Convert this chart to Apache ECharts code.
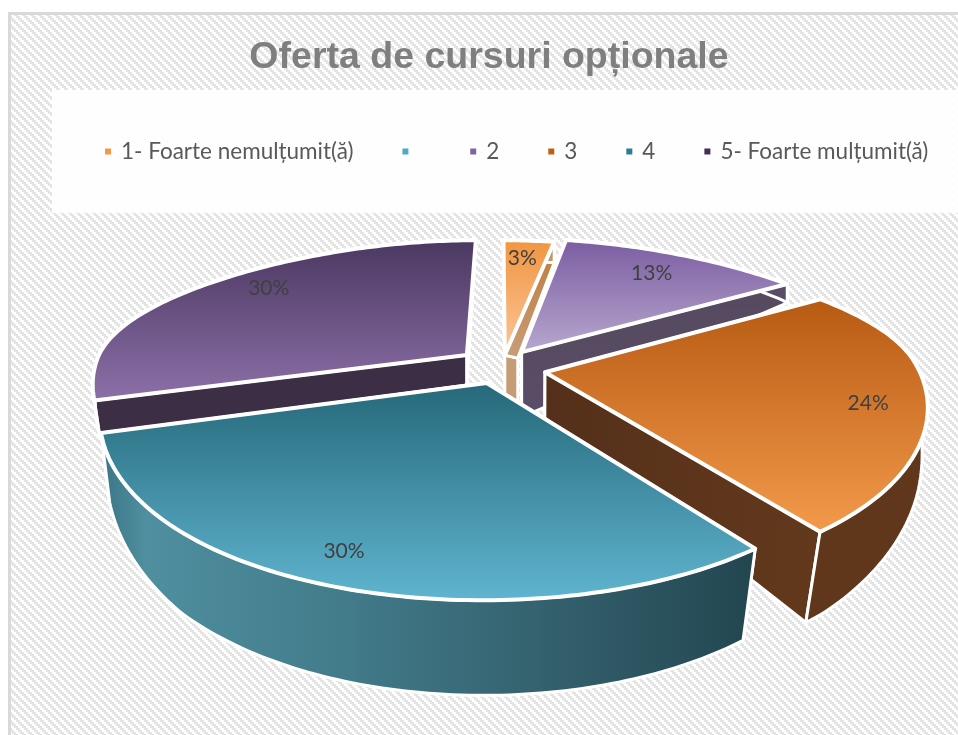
<!DOCTYPE html>
<html><head><meta charset="utf-8">
<style>html,body{margin:0;padding:0;background:#fff}#c{width:958px;height:735px}</style>
<script src="https://cdn.jsdelivr.net/npm/echarts@6/dist/echarts.min.js"></script>
</head><body><div id="c"></div>
<script>
const titleText = 'Oferta de cursuri opționale';
const categories = ['1- Foarte nemulțumit(ă)', '\u2009', '2', '3', '4', '5- Foarte mulțumit(ă)'];
const values = [3, 0, 13, 24, 30.4, 29.6];
const legendColors = ['#f79646', '#4bacc6', '#8064a2', '#c0600f', '#2a7f8f', '#403152'];

const chart = echarts.init(document.getElementById('c'), null, {renderer:'canvas'});
const LG = echarts.graphic.LinearGradient;

// per-slice appearance (index matches categories)
const looks = [
  {off:[.013,.033], top:['#f0953f','#fbc79a'], wall:['#bf7a3a','#c79e78'], wallDir:'v', lab:[.81,-.9], order:1, rimDrop:21, apexShift:[13,3], apexBox:[40,47]},
  {off:[0,0], top:['#4bacc6','#4bacc6'], wall:['#333','#333'], wallDir:'v', lab:[.8,0], order:0},
  {off:[.059,.053], top:['#7a5ca0','#b8a8cf'], wall:['#554a5e','#5a4d68'], wallDir:'v', lab:[.773,.1], order:2, apexShift:[0,65], dropScale:1.5},
  {off:[.12,-.08], top:['#b65a12','#f39a4b'], wall:['#54301a','#63391c'], outer:'#60371b', wallDir:'h', lab:[.85,2], order:4},
  {off:[-.035,-.147], top:['#256879','#60b5d0'], wall:null, wallDir:'h', lab:[.873,1.5], order:5},
  {off:[-.09,.033], top:['#4a3860','#8d70a9'], wall:['#3c2f45','#3c2f45'], wallDir:'v', lab:[.816,2.9], order:3, dropScale:.6, apexShift:[0,30]}
];
const total = values.reduce((a,b)=>a+b,0);
const cx=500, cy=360, A=370, B=150;

function topPt(u,v){
  const wx = 1 + .16*v + (v>0?.2:-.05)*v*v;
  const wy = 1 + .267*v + .017*v*v;
  return [cx + A*u/wx, cy - B*v/wy];
}
const depthV=[-1.2,-.85,-.4,0,.6,1.2], depthH=[96,90,68,40,12,3];
function drop(v){
  if(v<=depthV[0]) return depthH[0];
  for(let i=1;i<depthV.length;i++){
    if(v<=depthV[i]){const t=(v-depthV[i-1])/(depthV[i]-depthV[i-1]);return depthH[i-1]+t*(depthH[i]-depthH[i-1]);}
  }
  return depthH[depthH.length-1];
}
function botPt(u,v,L){
  const p=topPt(u,v);
  const s=1-.05*Math.max(0,-v);
  const d=L.rimDrop!=null?L.rimDrop:drop(v)*(L.dropScale||1);
  return [cx+(p[0]-cx)*s, p[1]+d];
}
function renderSlice(params, api){
  const i=params.seriesIndex, val=api.value(0);
  if(!val) return {type:'group',children:[]};
  const L=looks[i];
  let before=0; for(let k=0;k<i;k++) before+=values[k];
  const a0=before/total*360, a1=(before+val)/total*360;
  const uvs=[];
  const steps=Math.ceil(a1-a0);
  for(let s=0;s<=steps;s++){
    const r=(a0+(a1-a0)*s/steps)*Math.PI/180; uvs.push([Math.sin(r)+L.off[0],Math.cos(r)+L.off[1]]);
  }
  const o=L.off, apexT=topPt(o[0],o[1]);
  const apexB=L.apexShift?[apexT[0]+L.apexShift[0],apexT[1]+L.apexShift[1]]:botPt(o[0],o[1],L);
  const arcT=uvs.map(p=>topPt(p[0],p[1])), arcB=uvs.map(p=>botPt(p[0],p[1],L));
  const wallStyle=L.wall
    ? new LG(0,0,L.wallDir==='h'?1:0,L.wallDir==='h'?0:1,[{offset:0,color:L.wall[0]},{offset:1,color:L.wall[1]}])
    : new LG(0,0,1,0,[{offset:0,color:'#3a7485'},{offset:.07,color:'#4f8f9f'},{offset:.35,color:'#437d8c'},{offset:.7,color:'#335f6c'},{offset:1,color:'#224650'}]);
  const cutFill = L.wall ? wallStyle : '#224650';
  const sw={stroke:'#fff',lineWidth:3,lineJoin:'round'};
  const kids=[];
  const poly=(pts,fill,st)=>kids.push({type:'polygon',shape:{points:pts},style:Object.assign({fill},st||sw)});
  if(L.apexBox){
    poly([apexT,[apexT[0],apexT[1]+L.apexBox[0]],[apexB[0],apexT[1]+L.apexBox[1]],apexB],'#c69c76');
  }
  poly([apexT,arcT[0],arcB[0],apexB],cutFill);
  const n=arcT.length-1;
  poly([apexT,arcT[n],arcB[n],apexB],cutFill);
  poly(arcT.concat(arcB.slice().reverse()),L.outer||wallStyle);
  poly([apexT].concat(arcT),new LG(0,0,0,1,[{offset:0,color:L.top[0]},{offset:1,color:L.top[1]}]),{stroke:'#fff',lineWidth:4,lineJoin:'round'});
  const ma=((a0+a1)/2+L.lab[1])*Math.PI/180;
  const lp=topPt(o[0]+L.lab[0]*Math.sin(ma),o[1]+L.lab[0]*Math.cos(ma));
  kids.push({type:'text',z2:50,style:{text:Math.round(val/total*100)+'%',x:lp[0],y:lp[1],align:'center',verticalAlign:'middle',fontFamily:'Lato',fontSize:21,fill:'#404040'}});
  return {type:'group',children:kids};
}

const pat=document.createElement('canvas'); pat.width=8; pat.height=8;
const pc=pat.getContext('2d'); pc.fillStyle='#fff'; pc.fillRect(0,0,8,8); pc.fillStyle='#e4e4e4';
for(let y=0;y<8;y++)for(let x=0;x<8;x++){ if(((Math.floor(x/2)-Math.floor(y/2)+4)%4)<2) pc.fillRect(x,y,1,1); }

chart.setOption({
  animation:false,
  backgroundColor:'#fff',
  title:{text:titleText,left:484,top:34,textAlign:'center',textStyle:{fontFamily:'Liberation Sans',fontWeight:'bold',fontSize:37.5,color:'#7f7f7f'}},
  legend:{show:true,data:categories,left:98,top:135,icon:'rect',itemWidth:8,itemHeight:8,itemGap:47,
    itemStyle:{borderColor:'#fff',borderWidth:2},
    textStyle:{fontFamily:'Lato',fontSize:22.5,color:'#595959',padding:[0,0,0,4]},selectedMode:false},
  graphic:{elements:[
    {type:'rect',z:-10,shape:{x:9.5,y:13.5,width:1000,height:800},style:{fill:{image:pat,repeat:'repeat'},stroke:'#d9d9d9',lineWidth:3}},
    {type:'rect',z:-9,shape:{x:52,y:90,width:910,height:123},style:{fill:'rgba(255,255,255,0.93)'}}
  ]},
  series:categories.map((name,i)=>({
    type:'custom',name,coordinateSystem:'none',z:2+looks[i].order,
    itemStyle:{color:legendColors[i]},
    renderItem:renderSlice,data:[[values[i]]],silent:true
  }))
});
</script></body></html>
